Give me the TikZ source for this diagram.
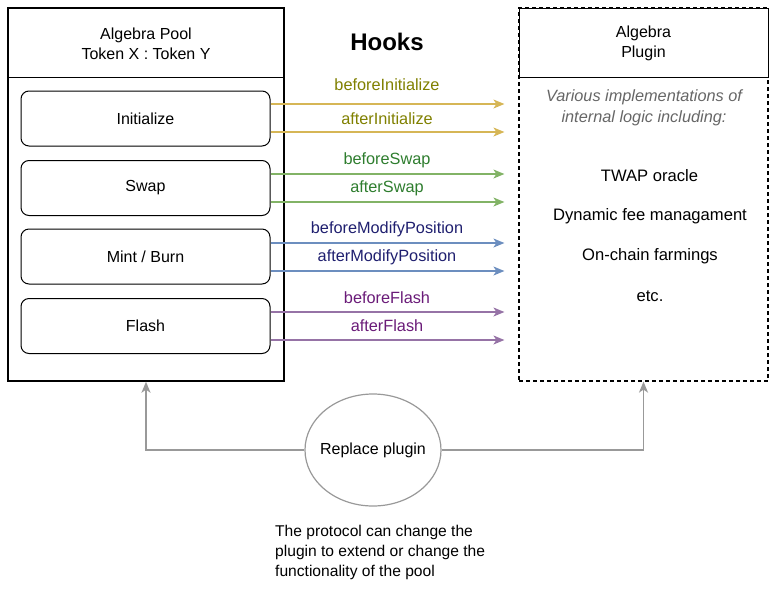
\documentclass[tikz,border=0pt]{standalone}
\usepackage{fontspec}
\setmainfont{Liberation Sans}
\usetikzlibrary{arrows.meta,shapes.geometric,calc}
\definecolor{yline}{HTML}{D6B656}
\definecolor{ytext}{HTML}{808000}
\definecolor{gline}{HTML}{82B366}
\definecolor{gtext}{HTML}{2E7D2E}
\definecolor{bline}{HTML}{6C8EBF}
\definecolor{btext}{HTML}{1F1F6F}
\definecolor{pline}{HTML}{9673A6}
\definecolor{ptext}{HTML}{6A1B78}
\definecolor{greyline}{HTML}{999999}
\definecolor{greytext}{HTML}{666666}
\tikzset{
  every node/.style={font=\fontsize{16}{20}\selectfont, inner sep=0pt},
  fnbox/.style={draw, line width=1pt, rounded corners=8pt, minimum width=249pt, minimum height=55pt},
  hook/.style={line width=1.4pt, -{Stealth[length=11pt,width=9pt,inset=3pt]}, shorten >=14pt},
  hooklabel/.style={font=\fontsize{16.3}{20}\selectfont},
  item/.style={font=\fontsize{16.6}{20}\selectfont},
  greyarrow/.style={draw=greyline, line width=1.6pt, -{Stealth[length=11pt,width=9pt,inset=3pt]}},
}
\begin{document}
\begin{tikzpicture}[x=1pt,y=-1pt]
\useasboundingbox (0,0) rectangle (776,595);
% pool
\node[draw, line width=1.4pt, minimum width=276pt, minimum height=373pt] (pool) at (146,194.5) {};
\draw[line width=1pt] (pool.west |- 0,77) coordinate (pdl) -- (pool.east |- 0,77) coordinate (pdr);
\node[align=center] (pooltitle) at (146,43.5) {Algebra Pool\\Token X : Token Y};
\node[fnbox] (init) at (145.5,118.5) {Initialize};
\node[fnbox] (swap) at (145.5,188) {Swap};
\node[fnbox] (mint) at (145.5,256.5) {Mint / Burn};
\node[fnbox] (flash) at (145.5,326) {Flash};
% plugin
\node[draw, line width=1.2pt, dash pattern=on 4pt off 3pt, minimum width=249pt, minimum height=373pt] (plugin) at (643.5,194.5) {};
\node[draw, line width=1pt, fill=white, minimum width=249pt, minimum height=69pt, align=center] (phead) at (643.5,43) {Algebra\\Plugin};
\node[align=center, text=greytext, font=\fontsize{16.3}{21}\itshape\selectfont] (various) at (644,108) {Various implementations of\\internal logic including:};
\node[item] (twap) at (649.5,176) {TWAP oracle};
\node[item] (fee) at (650,216) {Dynamic fee managament};
\node[item] (farm) at (650,256) {On-chain farmings};
\node[item] (etc) at (650,296) {etc.};
% hooks title
\node[font=\fontsize{24}{28}\bfseries\selectfont] (hooks) at (387,42) {Hooks};
% hook arrows
\draw[hook, yline] ([yshift=14.5pt]init.east) -- ([yshift=14.5pt]init.east -| plugin.west);
\draw[hook, yline] ([yshift=-13.5pt]init.east) -- ([yshift=-13.5pt]init.east -| plugin.west);
\draw[hook, gline] ([yshift=14pt]swap.east) -- ([yshift=14pt]swap.east -| plugin.west);
\draw[hook, gline] ([yshift=-14pt]swap.east) -- ([yshift=-14pt]swap.east -| plugin.west);
\draw[hook, bline] ([yshift=13.5pt]mint.east) -- ([yshift=13.5pt]mint.east -| plugin.west);
\draw[hook, bline] ([yshift=-14.5pt]mint.east) -- ([yshift=-14.5pt]mint.east -| plugin.west);
\draw[hook, pline] ([yshift=14pt]flash.east) -- ([yshift=14pt]flash.east -| plugin.west);
\draw[hook, pline] ([yshift=-14pt]flash.east) -- ([yshift=-14pt]flash.east -| plugin.west);
\node[hooklabel, text=ytext] (l1) at (387,85) {beforeInitialize};
\node[hooklabel, text=ytext] (l2) at (387,119) {afterInitialize};
\node[hooklabel, text=gtext] (l3) at (387,160) {beforeSwap};
\node[hooklabel, text=gtext] (l4) at (387,188) {afterSwap};
\node[hooklabel, text=btext] (l5) at (387,229) {beforeModifyPosition};
\node[hooklabel, text=btext] (l6) at (387,257) {afterModifyPosition};
\node[hooklabel, text=ptext] (l7) at (387,298) {beforeFlash};
\node[hooklabel, text=ptext] (l8) at (387,326) {afterFlash};
% replace plugin
\node[ellipse, draw=greyline, line width=1.2pt, minimum width=136pt, minimum height=112pt] (rep) at (373,450) {};
\node (reptext) at (rep.center) {Replace plugin};
\draw[greyarrow] (rep.west) -| (pool.south);
\draw[greyarrow] (rep.east) -| (plugin.south);
\node[anchor=north west, align=left, font=\fontsize{15.6}{20}\selectfont] (note) at (275,524.5) {The protocol can change the\\plugin to extend or change the\\functionality of the pool};
\end{tikzpicture}
\end{document}
